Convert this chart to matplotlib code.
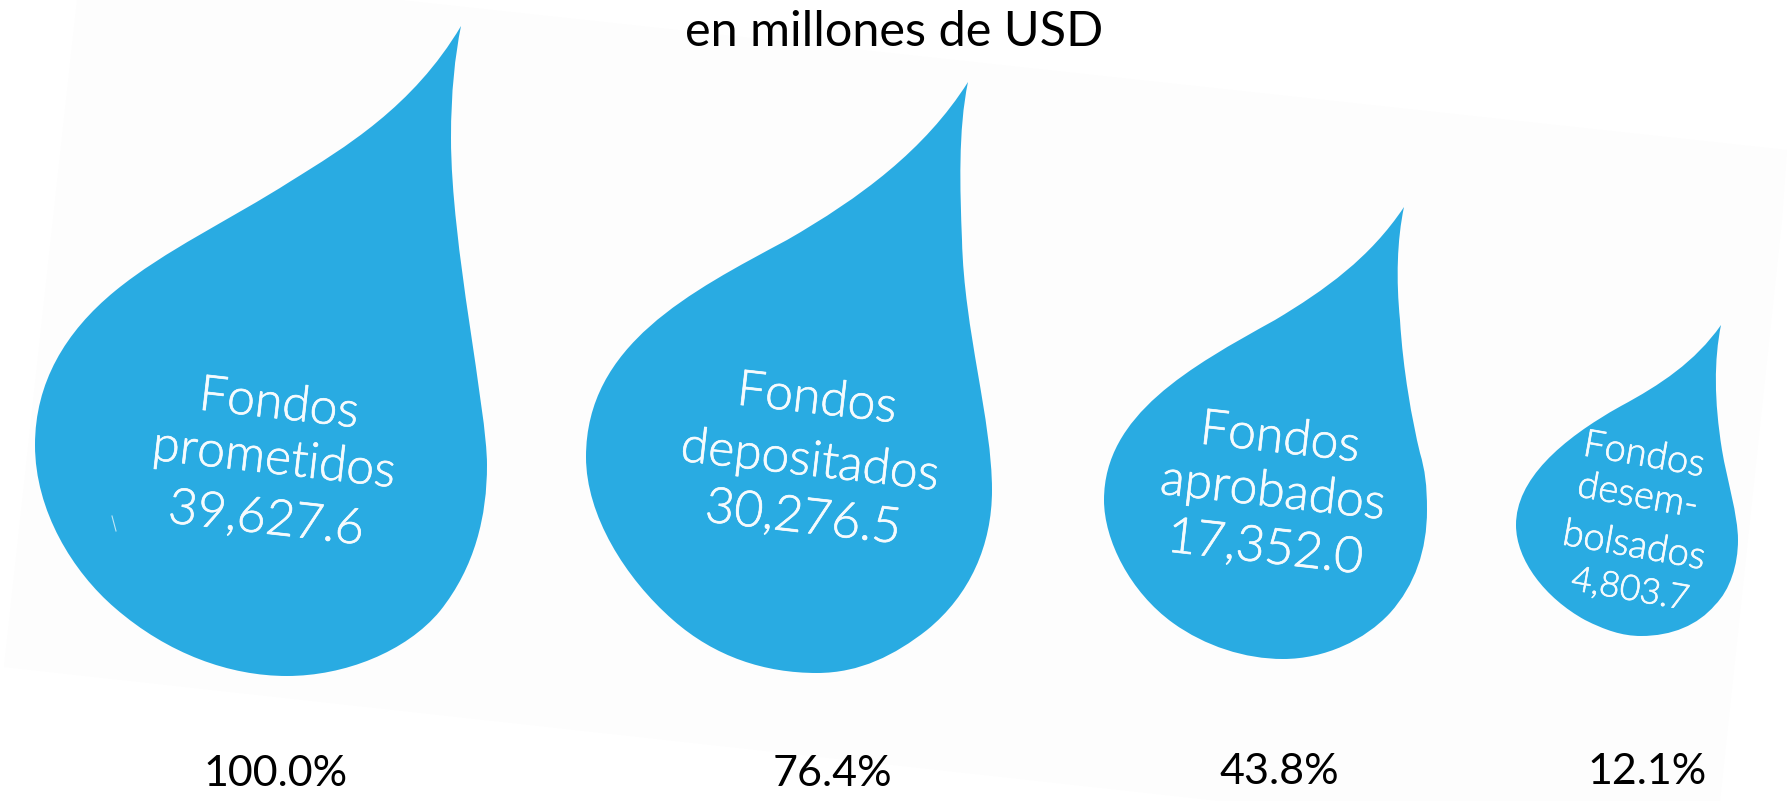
import matplotlib
matplotlib.use('Agg')
import matplotlib.pyplot as plt
import matplotlib.patheffects as pe
import numpy as np
from matplotlib.path import Path
from matplotlib.patches import PathPatch, Polygon

# chart values
names = [['Fondos', 'prometidos'], ['Fondos', 'depositados'], ['Fondos', 'aprobados'],
         ['Fondos', 'desem-', 'bolsados']]
amounts = ['39,627.6', '30,276.5', '17,352.0', '4,803.7']
percents = ['100.0%', '76.4%', '43.8%', '12.1%']
title = 'en millones de USD'

blue = '#29ABE2'
paper = '#FDFDFD'

# drop outlines in pixels, bezier control points, tip first
drop_1 = [(461, 26), (413, 107), (344, 148), (291, 181), (230, 220), (165, 250), (115, 291), (65, 332), (35, 383),
          (35, 445), (35, 511), (73, 572), (115, 608), (168, 654), (230, 676), (287, 676), (344, 676), (406, 652),
          (440, 611), (475, 567), (487, 516), (487, 465), (487, 409), (451, 245), (451, 138), (451, 92), (455, 56),
          (461, 26)]
drop_2 = [(968, 82), (925, 150), (860, 198), (787, 240), (690, 292), (586, 345), (586, 457), (586, 515), (625, 578),
          (673, 620), (715, 657), (765, 673), (817, 673), (860, 673), (895, 655), (927, 630), (970, 595), (992, 545),
          (992, 490), (992, 420), (964, 330), (962, 240), (960, 190), (958, 130), (968, 82)]
drop_3 = [(1404, 207), (1370, 258), (1325, 290), (1275, 320), (1190, 367), (1104, 415), (1104, 500), (1104, 540),
          (1130, 592), (1173, 623), (1205, 646), (1245, 659), (1283, 659), (1325, 659), (1365, 640), (1390, 613),
          (1415, 585), (1427, 550), (1427, 510), (1427, 485), (1425, 470), (1420, 453), (1412, 420), (1403, 370),
          (1400, 320), (1396, 280), (1397, 240), (1404, 207)]
drop_4 = [(1721, 325), (1695, 362), (1660, 385), (1621, 406), (1560, 440), (1516, 480), (1516, 525), (1516, 560),
          (1545, 598), (1585, 620), (1605, 630), (1622, 636), (1641, 636), (1672, 636), (1698, 625), (1715, 605),
          (1730, 590), (1738, 565), (1738, 540), (1738, 515), (1727, 480), (1722, 450), (1714, 400), (1714, 360),
          (1721, 325)]
drops = [drop_1, drop_2, drop_3, drop_4]

# centre of each text line, in pixels
line_pos = [[(279, 405), (274, 460), (266, 520)],
            [(817, 400), (810, 462), (803, 519)],
            [(1280, 439), (1273, 493), (1265, 549)],
            [(1644, 456), (1638, 497), (1634, 547), (1630, 590)]]
font_sizes = [36, 36, 36, 27.5]
amount_sizes = [36, 36, 36, 25.5]
rotations = [-6.5, -6.5, -6.5, -10]
pct_pos = [(276, 774), (832, 774), (1279, 772), (1647, 772)]

plt.rcParams['font.family'] = ['Lato', 'DejaVu Sans']
fig = plt.figure(figsize=(17.87, 8.01), dpi=100)
ax = fig.add_axes([0, 0, 1, 1])
ax.set_xlim(0, 1787)
ax.set_ylim(801, 0)
ax.axis('off')

ax.add_patch(Polygon([(77, 0), (400, 0), (1787, 150), (1782, 220), (1720, 801), (1220, 801), (4, 667)],
                     closed=True, facecolor=paper, edgecolor='none'))

for i in range(4):
    codes = [Path.MOVETO] + [Path.CURVE4] * (len(drops[i]) - 1)
    ax.add_patch(PathPatch(Path(np.array(drops[i], dtype=float), codes), facecolor=blue, edgecolor='none'))
    lines = names[i] + [amounts[i]]
    sizes = [font_sizes[i]] * len(names[i]) + [amount_sizes[i]]
    for line, pos, size in zip(lines, line_pos[i], sizes):
        txt = ax.text(pos[0], pos[1], line, color='#F5FBFE', fontsize=size, fontweight=300,
                      rotation=rotations[i], rotation_mode='anchor', ha='center', va='center')
        txt.set_path_effects([pe.withStroke(linewidth=0.5, foreground='#F5FBFE')])
    ax.text(pct_pos[i][0], pct_pos[i][1], percents[i], color='black', fontsize=31, ha='center', va='center')

# small scratch on the first drop
ax.plot([112, 116], [516, 531], color='#BFE6F6', linewidth=0.8)

ax.text(894, 32, title, color='black', fontsize=35, ha='center', va='center')

fig.savefig('out.png', dpi=100)
